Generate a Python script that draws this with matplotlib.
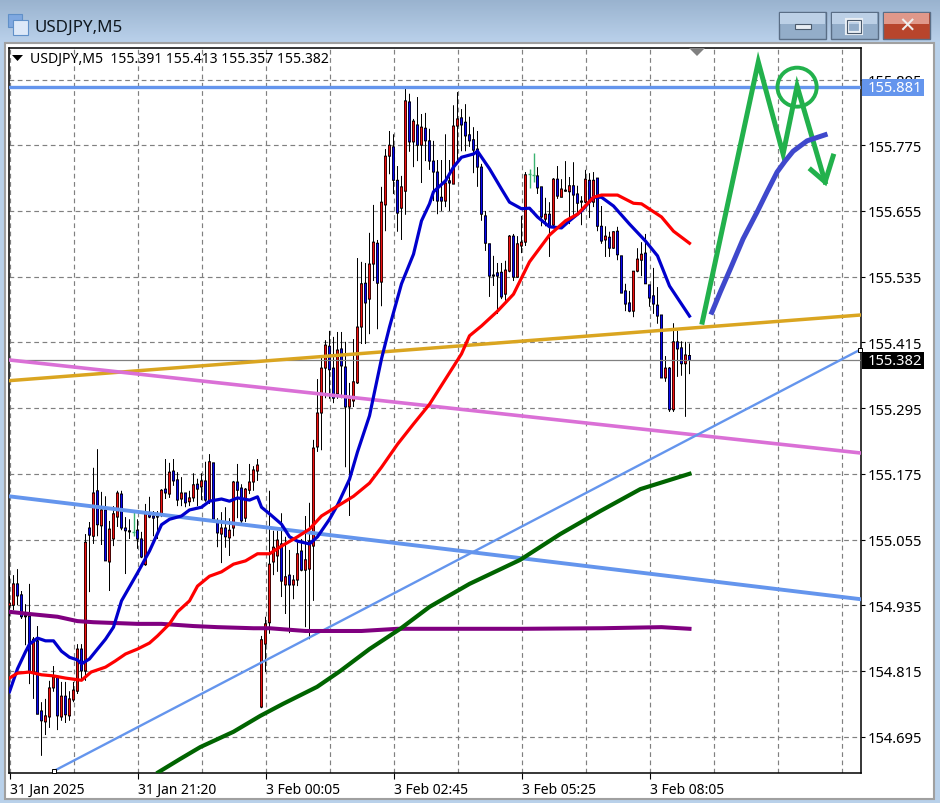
import numpy as np
import matplotlib
matplotlib.use("Agg")
import matplotlib.pyplot as plt
from matplotlib.patches import Rectangle, Polygon, Ellipse

# ---- Values. Prices are stored as points above 154.000 (1 point = 0.001)
highs = [988,990,1001,961,937,974,877,897,758,764,797,824,804,795,795,778,795,864,864,1065,1087,1186,1220,1142,1134,1089,1116,1144,1144,1096,1092,1105,1092,1069,1120,1133,1107,1107,1147,1202,1195,1202,1178,1169,1140,1144,1176,1166,1176,1197,1211,1195,1094,1105,1114,1094,1162,1193,1156,1149,1193,1189,1202,
         879,914,1144,1071,1071,1103,1060,1036,990,1050,1056,1098,1122,1237,1348,1390,1419,1436,1425,1434,1434,1416,1341,1421,1569,1562,1560,1615,1666,1602,1699,1768,1801,1795,1737,1719,1879,1869,1823,1863,1832,1834,1805,1783,1748,1748,1795,1748,1848,1872,1841,1850,1827,1808,1801,1741,1655,1595,1573,1560,1560,1564,1611,1613,1609,1646,1726,1732,1761,1735,1699,1679,1671,1715,1737,1713,1746,1717,1744,1701,1682,1730,1724,1726,1715,1664,1627,1617,1618,1626,1573,1522,1509,1545,1587,1598,1613,1520,1551,1516,1465,1390,1370,1450,1436,1417,1416,1413]
tops = [939,974,974,954,917,915,873,870,742,733,784,804,804,769,769,764,780,855,855,1050,1076,1140,1144,1109,1109,1074,1102,1140,1138,1076,1071,1069,1072,1056,1102,1102,1098,1098,1145,1147,1178,1180,1164,1140,1140,1131,1155,1156,1162,1162,1197,1195,1087,1076,1076,1072,1160,1160,1149,1147,1160,1182,1191,
        872,901,1010,1041,1054,1047,987,990,981,1029,1034,1018,1052,1222,1286,1368,1410,1408,1368,1401,1403,1370,1315,1343,1443,1522,1523,1558,1598,1596,1671,1755,1775,1772,1711,1699,1856,1854,1819,1812,1808,1806,1783,1746,1726,1680,1706,1710,1810,1823,1825,1817,1794,1785,1768,1735,1646,1595,1538,1542,1543,1547,1609,1609,1595,1598,1721,1722,1721,1719,1699,1649,1649,1713,1713,1695,1693,1701,1701,1686,1673,1713,1711,1711,1715,1627,1609,1607,1617,1618,1573,1509,1487,1545,1567,1576,1578,1520,1500,1483,1465,1368,1368,1416,1416,1405,1392,1391]
bottoms = [934,935,952,914,914,813,813,736,724,722,731,784,733,731,735,733,762,778,815,815,1063,1061,1082,1080,1016,1014,1056,1096,1076,1071,1069,1067,1056,1023,1009,1096,1094,1096,1102,1140,1138,1162,1127,1129,1122,1124,1131,1147,1151,1127,1125,1092,1067,1065,1060,1058,1076,1145,1089,1094,1145,1160,1180,
           749,864,903,1014,1025,979,972,972,972,981,999,999,1001,1043,1224,1286,1368,1365,1313,1321,1372,1297,1297,1308,1341,1443,1487,1494,1558,1523,1525,1666,1755,1711,1651,1660,1691,1781,1781,1775,1775,1783,1746,1726,1673,1673,1673,1706,1704,1810,1812,1792,1783,1766,1735,1649,1596,1536,1536,1536,1498,1503,1545,1534,1534,1591,1598,1721,1719,1697,1644,1640,1627,1629,1682,1680,1691,1690,1684,1669,1671,1671,1671,1671,1627,1600,1602,1587,1587,1575,1505,1485,1472,1472,1545,1565,1522,1496,1485,1463,1350,1350,1292,1292,1403,1376,1376,1382]
lows = [915,926,935,910,862,791,764,736,660,698,711,777,707,724,720,724,758,773,797,797,959,1047,1061,1045,1016,961,1043,1078,1072,992,1056,1061,1038,1021,1007,1094,1061,1056,1096,1129,1131,1153,1116,1116,1114,1116,1124,1116,1127,1124,1120,1092,1041,1012,1040,1025,1061,1094,1085,1087,1138,1144,1162,
        747,813,883,990,996,950,919,884,946,970,997,895,873,943,1215,1218,1313,1312,1304,1312,1313,1187,1098,1297,1339,1412,1412,1430,1527,1439,1481,1618,1722,1686,1617,1602,1648,1763,1735,1746,1706,1746,1730,1673,1649,1655,1662,1655,1704,1746,1764,1764,1772,1724,1699,1637,1582,1498,1518,1467,1494,1491,1543,1527,1533,1578,1591,1697,1708,1686,1627,1627,1571,1627,1677,1680,1690,1631,1648,1648,1629,1669,1642,1662,1618,1595,1571,1571,1586,1565,1505,1472,1470,1461,1543,1536,1522,1480,1467,1449,1350,1343,1288,1288,1352,1354,1279,1357]
up_bars = {0,1,6,9,10,11,13,15,16,17,19,21,23,25,26,27,30,34,38,40,43,45,46,48,50,53,55,56,59,60,61,62,63,64,65,66,67,69,71,72,74,75,76,77,78,79,82,85,86,87,88,90,91,93,94,95,98,99,101,103,109,111,112,121,124,125,127,128,129,134,136,138,139,140,144,146,149,151,156,157,158,164,166,169}
other_bars = {31,130,131}

fast_bar = [0,2,4,5,7,9,11,13,15,17,18,20,24,26,28,32,35,38,40,43,45,48,50,53,55,57,60,62,63,65,68,70,72,75,77,80,82,85,87,90,93,95,98,101,103,105,106,109,111,113,116,117,120,123,125,128,130,132,135,138,140,143,146,148,151,155,159,162,165,170]
fast_ma = [777,819,850,864,875,870,870,851,840,835,828,837,873,895,943,994,1034,1082,1092,1098,1109,1114,1125,1129,1125,1131,1127,1133,1114,1102,1083,1060,1052,1047,1060,1092,1118,1165,1215,1281,1385,1443,1522,1576,1637,1668,1690,1710,1735,1753,1759,1764,1732,1695,1671,1659,1660,1644,1626,1624,1637,1655,1680,1680,1664,1631,1600,1573,1518,1463]
mid_bar = [0,2,5,8,11,14,18,20.4,24,26.4,29,32,35,37,40,42,45,47,50,53,56,59,62,65,68,72,75,78,80,82,86,90,93,97,101,105,109,113,115,118,122,126,130,135,139,142,146,148,152,156,158,163,166,170]
mid_ma = [802,811,813,808,806,802,798,813,822,833,846,855,866,879,901,923,943,970,988,996,1010,1016,1029,1029,1043,1060,1074,1098,1107,1116,1134,1158,1187,1229,1266,1302,1348,1394,1427,1445,1472,1503,1562,1611,1637,1649,1680,1684,1684,1669,1668,1644,1618,1596]
slow_bar = [37.2,42.6,47.7,56,62.7,68.4,76.9,82.7,90,97.7,105,115,127.7,137.7,147.7,157.7,170]
slow_ma = [630,654,676,704,733,755,786,815,855,892,932,974,1018,1065,1107,1147,1175]
long_bar = [0,5,12,17,21,32,38,46,52,61,65,74,88,97,110,128,148,163,170]
long_ma = [923,919,914,906,904,901,901,897,895,893,893,888,888,892,892,892,893,895,892]

level_resistance = 155.881
last_price = 155.382
gold_line = ([-0.2, 212.8], [1345, 1465])
orchid_line = ([-0.2, 212.8], [1383, 1213])
thick_blue_line = ([-0.2, 212.8], [1134, 946])
thin_blue_line = ([11, 212.5], [632, 1401])

scribble_bar = [173.2, 187.2, 193.4, 196.9, 203.9]
scribble_pts = [1452, 1927, 1759, 1883, 1708]
arrow_bar = [200.4, 203.9, 205.9]
arrow_pts = [1730, 1708, 1755]
circle_bar, circle_pts = 196.9, 1881
path_bar = [175.6, 177.7, 180.2, 183.4, 186.9, 189.4, 191.9, 193.9, 195.9, 199.4, 203.9]
path_pts = [1470, 1507, 1549, 1604, 1653, 1690, 1726, 1746, 1764, 1783, 1794]

price_ticks = [154.695, 154.815, 154.935, 155.055, 155.175, 155.295, 155.415, 155.535, 155.655, 155.775, 155.895]
time_tick_bars = [0, 32, 64, 96, 128, 160]
time_labels = ["31 Jan 2025", "31 Jan 21:20", "3 Feb 00:05", "3 Feb 02:45", "3 Feb 05:25", "3 Feb 08:05"]
header = "USDJPY,M5  155.391 155.413 155.357 155.382"
title = "USDJPY,M5"


def px(v):
    return 154 + np.asarray(v, dtype=float) / 1000


plt.rcParams['font.family'] = ['Noto Sans', 'DejaVu Sans']
W, H = 940, 804
fig = plt.figure(figsize=(W / 100, H / 100), dpi=100, facecolor="#B9D1EA")

# window chrome, drawn in screen pixels
bg = fig.add_axes([0, 0, 1, 1], zorder=0)
bg.set_xlim(0, W); bg.set_ylim(H, 0); bg.axis("off")
grad = np.linspace(0, 1, 44)[:, None]
c0, c1 = np.array([0.60, 0.70, 0.81]), np.array([0.73, 0.82, 0.92])
bg.imshow((c0 + (c1 - c0) * grad)[:, None, :].reshape(44, 1, 3), extent=(0, W, 44, 0), aspect="auto", zorder=1)
bg.set_xlim(0, W); bg.set_ylim(H, 0)
bg.add_patch(Rectangle((5, 44), 929, 756, fc="white", ec="#A0A0A0", lw=1.5, zorder=2))
for (x, y, w, h, c) in [(8, 15, 14, 13, "#7FA8E0"), (13, 21, 15, 15, "#DCE8F8")]:
    bg.add_patch(Rectangle((x, y), w, h, fc=c, ec="#6090C8", lw=0.8, zorder=3))
bg.text(34, 28, title, fontsize=12.2, color="#101820", va="center", ha="left", zorder=3)
for (x, top, bot) in [(779, "#BCD0E6", "#93ADC9"), (831, "#BCD0E6", "#93ADC9"), (883, "#E0988A", "#B8452C")]:
    bg.add_patch(Rectangle((x, 13), 47, 27, fc=bot, ec="#5A6E86", lw=1, zorder=3))
    bg.add_patch(Rectangle((x + 1, 14), 45, 11, fc=top, ec="none", zorder=4))
bg.add_patch(Rectangle((795, 25), 16, 5, fc="#E8EEF4", ec="#4A5A6C", lw=0.8, zorder=5))
bg.add_patch(Rectangle((847, 21), 14, 13, fc="none", ec="#E8EEF4", lw=3, zorder=5))
bg.add_patch(Rectangle((847, 21), 14, 13, fc="none", ec="#4A5A6C", lw=0.8, zorder=5))
bg.text(907, 26.5, "✕", fontsize=15, fontweight="bold", color="#EEEEEE", ha="center", va="center", zorder=5,
        family="DejaVu Sans")

# chart
L, R, T, B = 8.5, 860.5, 48.5, 773.5
ax = fig.add_axes([L / W, 1 - B / H, (R - L) / W, (B - T) / H], zorder=1)
ax.set_facecolor("white")
ax.set_xlim((L - 9.5) / 4, (R - 9.5) / 4)
ax.set_ylim(156.042 - B * 0.001826, 156.042 - T * 0.001826)
for s in ax.spines.values():
    s.set_color("black"); s.set_linewidth(1.1)

ax.yaxis.tick_right()
ax.set_yticks(price_ticks)
ax.set_yticklabels([f"{v:.3f}" for v in price_ticks])
ax.set_xticks(time_tick_bars)
ax.set_xticklabels(time_labels, ha="left")
ax.tick_params(axis="y", length=3, width=0.8, labelsize=10.6, pad=2.5, colors="black")
ax.tick_params(axis="x", length=4, width=0.8, labelsize=10, pad=3, colors="black")
for g in np.arange(0, 213, 16):
    ax.axvline(g, color="#808080", lw=0.85, ls=(0, (4, 3)), zorder=1)
for v in price_ticks:
    ax.axhline(v, color="#808080", lw=0.85, ls=(0, (4, 3)), zorder=1)

# candles: black wick, black body outline, coloured core
for i in range(len(highs)):
    if i in other_bars:
        ax.vlines(i, px(lows[i]), px(highs[i]), color="#3CB371", lw=1.0, zorder=2)
        ax.hlines(px(tops[i]), i - 0.45, i + 0.45, color="#3CB371", lw=1.0, zorder=2)
        continue
    ax.bar(i, (highs[i] - lows[i]) / 1000, bottom=px(lows[i]), width=0.25, color="black", linewidth=0, zorder=2,
           snap=False)
    span = (tops[i] - bottoms[i]) / 1000
    ax.bar(i, span + 0.0018, bottom=px(bottoms[i]) - 0.0009, width=0.75, color="black", linewidth=0, zorder=3,
           snap=False)
    if span > 0.003:
        face = "#F01010" if i in up_bars else "#0808F0"
        ax.bar(i, span - 0.0018, bottom=px(bottoms[i]) + 0.0009, width=0.4, color=face, linewidth=0, zorder=4,
               snap=False)

ax.axhline(last_price, color="#808080", lw=0.9, zorder=4)
ax.axhline(level_resistance, color="#6495ED", lw=2.4, zorder=5)
ax.plot(gold_line[0], px(gold_line[1]), color="#DAA520", lw=2.5, zorder=5)
ax.plot(orchid_line[0], px(orchid_line[1]), color="#DA70D6", lw=2.6, zorder=5)
ax.plot(thick_blue_line[0], px(thick_blue_line[1]), color="#6495ED", lw=2.8, zorder=5)
ax.plot(thin_blue_line[0], px(thin_blue_line[1]), color="#6495ED", lw=1.7, zorder=5)
ax.plot(thin_blue_line[0], px(thin_blue_line[1]), ls="none", marker="s", ms=3, mfc="white", mec="black", mew=0.7,
        clip_on=False, zorder=6)

ax.plot(long_bar, px(long_ma), color="#800080", lw=2.9, zorder=6)
ax.plot(slow_bar, px(slow_ma), color="#006400", lw=3.0, zorder=6)
ax.plot(fast_bar, px(fast_ma), color="#0000CD", lw=2.3, zorder=6)
ax.plot(mid_bar, px(mid_ma), color="#FF0000", lw=2.3, zorder=6)

# hand-drawn marks
ax.plot(scribble_bar, px(scribble_pts), color="#22B14C", lw=3.6, solid_joinstyle="miter", zorder=7)
ax.plot(arrow_bar, px(arrow_pts), color="#22B14C", lw=3.6, solid_joinstyle="miter", zorder=7)
ax.add_patch(Ellipse((circle_bar, px(circle_pts)), 9.8, 0.0712, fc="none", ec="#22B14C", lw=2.8, zorder=7))
ax.plot(path_bar, px(path_pts), color="#3F48CC", lw=3.6, zorder=7)

# price labels at the right edge
for value, box, text in [(level_resistance, "#6495ED", "155.881"), (last_price, "black", "155.382")]:
    ax.add_patch(Rectangle((213.2, value - 0.0155), 15.5, 0.031, fc=box, ec="none", clip_on=False, zorder=8))
    ax.text(214.6, value, text, color="white", fontsize=10.6, va="center", ha="left", clip_on=False, zorder=9)

# header and small markers
ax.text(0.0250, 0.9845, header, transform=ax.transAxes, fontsize=10.12, color="black", va="center", ha="left", zorder=9)
tri = fig.add_axes([0, 0, 1, 1], zorder=2)
tri.set_xlim(0, W); tri.set_ylim(H, 0); tri.axis("off"); tri.patch.set_alpha(0)
tri.add_patch(Polygon([(12, 56), (23, 56), (17.5, 62)], fc="black", ec="none"))
tri.add_patch(Polygon([(689, 49), (705, 49), (697, 57)], fc="#808080", ec="none"))

fig.savefig("out.png", dpi=100, facecolor=fig.get_facecolor())
